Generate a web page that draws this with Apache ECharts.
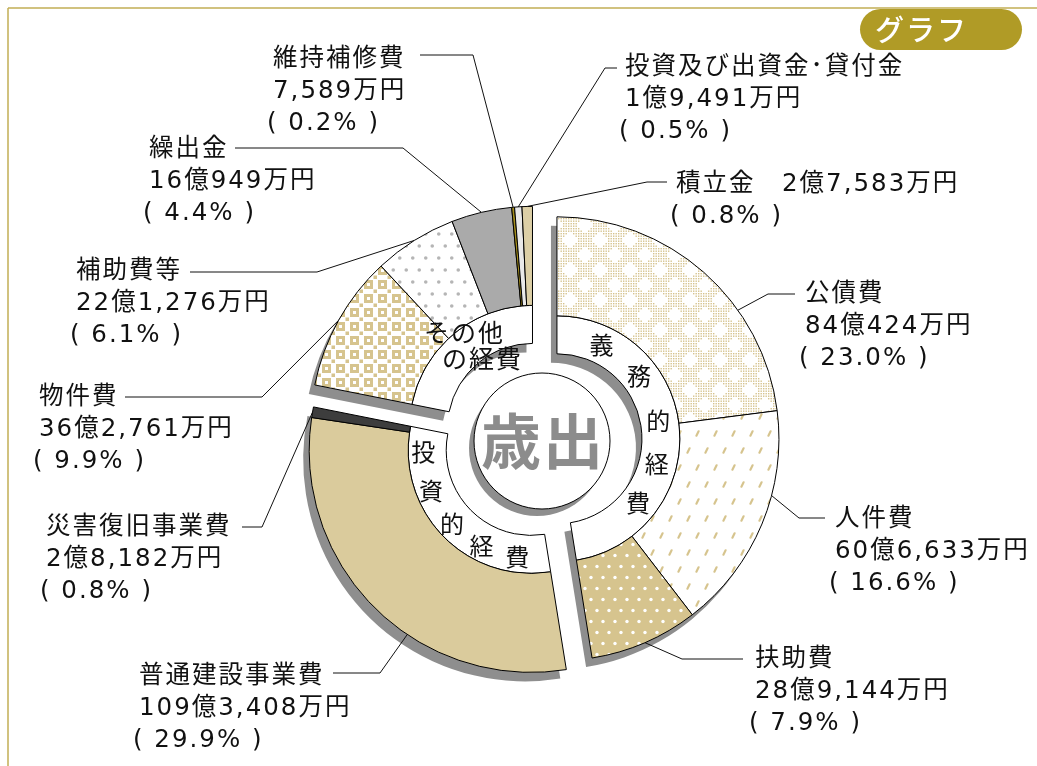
<!DOCTYPE html>
<html><head><meta charset="utf-8">
<script src="https://cdn.jsdelivr.net/npm/echarts@6.0.0/dist/echarts.min.js"></script>
<style>html,body{margin:0;padding:0;background:#fff}#chart{width:1037px;height:766px}</style>
</head><body><div id="chart"></div>
<script>
// ---------------- data ----------------
const groupNames = ['義務的経費', '投資的経費', 'その他の経費'];
const itemNames = ['公債費', '人件費', '扶助費', '普通建設事業費', '災害復旧事業費', '物件費', '補助費等', '繰出金', '維持補修費', '投資及び出資金･貸付金', '積立金'];
const itemGroups = [0, 0, 0, 1, 1, 2, 2, 2, 2, 2, 2];
const itemValues = [840424, 606633, 289144, 1093408, 28182, 362761, 221276, 160949, 7589, 19491, 27583]; // 万円
const itemPercentLabels = ['23.0', '16.6', '7.9', '29.9', '0.8', '9.9', '6.1', '4.4', '0.2', '0.5', '0.8'];
const centerTitle = '歳出';
const badgeText = 'グラフ';

// ---------------- layout / style ----------------
const C = [542, 440];
const EXPLODE = 15;
const R_HOLE = 68, R_IN = 85, R_MID = 123, R_OUT = 222;
const SHADOW = '#8e8e8e', SHADOW_DX = -6, SHADOW_DY = 9;
const TAN = '#d6c48e';
const FONT = "'DejaVu Sans', 'Noto Sans CJK JP', sans-serif";
const CJK = "'Noto Sans CJK JP', sans-serif";

const LABEL_LAYOUT = [
  {x: 799, y: 295, elbow: [768, 294], end: [795, 294], frac: 0.66},
  {x: 829, y: 520, elbow: [799, 518], end: [825, 518], frac: 0.37},
  {x: 749, y: 660, elbow: [682, 659], end: [743, 659], frac: 0.5},
  {x: 133, y: 677, elbow: [380, 673], end: [333, 673], frac: 0.40},
  {x: 40,  y: 528, elbow: [262, 527], end: [242, 527], frac: 0.5},
  {x: 33,  y: 398, elbow: [262, 397], end: [125, 397], frac: 0.5},
  {x: 70,  y: 272, elbow: [317, 272], end: [190, 272], frac: 0.5},
  {x: 143, y: 150, elbow: [403, 148], end: [235, 148], frac: 0.5},
  {x: 267, y: 60,  elbow: [473, 55],  end: [420, 55],  frac: 0.5},
  {x: 619, y: 68,  elbow: [605, 68],  end: [617, 68],  frac: 0.5},
  {x: 670, y: 185, elbow: [647, 182], end: [667, 182], frac: 0.5, inline: true}
];
const GROUP_CHAR_LAYOUT = [
  {r: 104, angles: [26, 53, 80, 104, 128]},
  {r: 107, angles: [269, 248, 227, 207, 187]}
];
const OTHER_LABEL_OFFSETS = [[-68, -96], [-50, -70]];

// ---------------- patterns ----------------
function mk(w, h, bg) { const c = document.createElement('canvas'); c.width = w; c.height = h; const x = c.getContext('2d'); if (bg) { x.fillStyle = bg; x.fillRect(0, 0, w, h); } return [c, x]; }
function patDiamondNet() {
  const W = 30, H = 30, D = 8.5; const [c, x] = mk(W, H, '#fff'); x.fillStyle = TAN;
  const holes = [[0, 0], [W, 0], [0, H], [W, H], [W / 2, H / 2]];
  for (let yy = 0.5; yy < H; yy += 2.5) for (let xx = 0.5; xx < W; xx += 2.5) {
    const px = xx + 0.7, py = yy + 0.7;
    if (holes.some(([hx, hy]) => Math.abs(px - hx) + Math.abs(py - hy) < D)) continue;
    x.fillRect(xx, yy, 1.4, 1.4);
  }
  return c;
}
function patDash() {
  const [c, x] = mk(18, 34, '#fff'); x.strokeStyle = TAN; x.lineWidth = 2.2; x.lineCap = 'round';
  [[4.5, 8.5], [13.5, 25.5]].forEach(([a, b]) => { x.beginPath(); x.moveTo(a - 1.1, b + 2.2); x.lineTo(a + 1.1, b - 2.2); x.stroke(); });
  return c;
}
function patDots(bg, fg, w, h, r) {
  const [c, x] = mk(w, h, bg); x.fillStyle = fg;
  [[w / 4, h / 4], [3 * w / 4, 3 * h / 4]].forEach(([a, b]) => { x.beginPath(); x.arc(a, b, r, 0, Math.PI * 2); x.fill(); });
  return c;
}
function patChecker() {
  const [c, x] = mk(14, 14, '#fff');
  x.fillStyle = TAN; x.fillRect(0, 0, 9, 9);
  x.fillStyle = '#fff'; x.fillRect(3, 3, 3, 3);
  x.fillStyle = TAN; x.fillRect(9.5, 9.5, 3.5, 3.5);
  return c;
}
const P = c => ({image: c, repeat: 'repeat'});
const ITEM_FILLS = [P(patDiamondNet()), P(patDash()), P(patDots(TAN, '#fff', 12, 22, 1.7)), '#dacb9c', '#3d3d3d',
  P(patChecker()), P(patDots('#fff', '#b5b5b5', 13, 24, 1.8)), '#aaaaaa', '#a38d1c', '#e9e9e9', '#dccfa6'];

// ---------------- derived ----------------
const total = itemValues.reduce((s, v) => s + v, 0);
const cum = []; { let a = 0; itemValues.forEach(v => { cum.push(a); a += v; }); }
const groupSums = groupNames.map((_, g) => itemValues.reduce((s, v, i) => s + (itemGroups[i] === g ? v : 0), 0));
const groupStart = groupNames.map((_, g) => cum[itemGroups.indexOf(g)]);
const deg = v => v / total * 360;
const rad = d => d * Math.PI / 180;
const groupCenters = groupNames.map((_, g) => {
  const mid = rad(deg(groupStart[g] + groupSums[g] / 2));
  return [C[0] + EXPLODE * Math.sin(mid), C[1] - EXPLODE * Math.cos(mid)];
});
function fmtAmount(v) { const oku = Math.floor(v / 10000), man = v % 10000; return (oku ? oku + '億' : '') + man.toLocaleString('en-US') + '万円'; }
function anchorOf(i) {
  const gc = groupCenters[itemGroups[i]];
  const a = rad(deg(cum[i] + itemValues[i] * LABEL_LAYOUT[i].frac));
  return [gc[0] + R_OUT * Math.sin(a), gc[1] - R_OUT * Math.cos(a)];
}
function filler(g) {
  return {value: total - groupSums[g], name: '', itemStyle: {color: 'rgba(0,0,0,0)', borderWidth: 0},
    label: {show: false}, labelLine: {show: false}};
}
const base = {type: 'pie', clockwise: true, silent: true, animation: false, avoidLabelOverlap: false,
  minAngle: 0, emphasis: {disabled: true}, stillShowZeroSum: false};

const series = [];
groupNames.forEach((gname, g) => {
  const gc = groupCenters[g];
  series.push(Object.assign({}, base, {
    z: 1, center: [gc[0] + SHADOW_DX, gc[1] + SHADOW_DY], radius: [R_IN, R_OUT], startAngle: 90 - deg(groupStart[g]),
    label: {show: false}, labelLine: {show: false},
    data: [{value: groupSums[g], name: gname, itemStyle: {color: SHADOW, borderWidth: 0}}, filler(g)]
  }));
});
groupNames.forEach((gname, g) => {
  const gc = groupCenters[g];
  series.push(Object.assign({}, base, {
    z: 2, center: gc, radius: [R_IN, R_MID], startAngle: 90 - deg(groupStart[g]),
    label: {show: false}, labelLine: {show: false},
    data: [{value: groupSums[g], name: gname, itemStyle: {color: '#fff', borderColor: '#000', borderWidth: 1}}, filler(g)]
  }));
});
groupNames.forEach((gname, g) => {
  const gc = groupCenters[g];
  const idxs = itemNames.map((_, i) => i).filter(i => itemGroups[i] === g);
  const data = idxs.map(i => ({value: itemValues[i], name: itemNames[i], gi: i,
    itemStyle: {color: ITEM_FILLS[i], borderColor: '#000', borderWidth: 1}}));
  data.push(filler(g));
  series.push(Object.assign({}, base, {
    z: 3, center: gc, radius: [R_MID, R_OUT], startAngle: 90 - deg(groupStart[g]),
    label: {
      show: true, position: 'outside', color: '#111', fontSize: 24.5, fontFamily: FONT, lineHeight: 32,
      formatter: p => {
        const i = p.data.gi; if (i === undefined) return '';
        const amt = fmtAmount(itemValues[i]);
        const pct = '( ' + itemPercentLabels[i] + '% )';
        if (LABEL_LAYOUT[i].inline) return '{a|' + itemNames[i] + '　' + amt + '}\n' + pct;
        return '{a|' + itemNames[i] + '}\n{a|' + amt + '}\n' + pct;
      },
      rich: {a: {padding: [0, 0, 0, 6], fontSize: 24.5, fontFamily: FONT, color: '#111', lineHeight: 32}}
    },
    labelLine: {show: true, length: 10, length2: 10, smooth: false, lineStyle: {color: '#111', width: 1}},
    labelLayout: p => {
      const i = idxs[p.dataIndex]; if (i === undefined) return {};
      const L = LABEL_LAYOUT[i];
      return {x: L.x, y: L.y - 16, align: 'left', verticalAlign: 'top', labelLinePoints: [anchorOf(i), L.elbow, L.end]};
    },
    data
  }));
});

// ---------------- graphic ----------------
const graphic = [
  {type: 'line', silent: true, z: 50, shape: {x1: 8, y1: 8, x2: 1037, y2: 8}, style: {stroke: '#c2ae55', lineWidth: 1.5}},
  {type: 'line', silent: true, z: 50, shape: {x1: 8, y1: 8, x2: 8, y2: 766}, style: {stroke: '#c2ae55', lineWidth: 1.5}},
  {type: 'rect', silent: true, z: 51, shape: {x: 860, y: 9, width: 162, height: 41, r: 20.5}, style: {fill: '#b09b26'}},
  {type: 'text', silent: true, z: 52, style: {text: badgeText, x: 875, y: 30, align: 'left', verticalAlign: 'middle', textAlign: 'left', textVerticalAlign: 'middle', fill: '#fff', font: '500 29px ' + CJK}},
  {type: 'circle', silent: true, z: 50, shape: {cx: C[0] - 5, cy: C[1] + 1 + 7, r: R_HOLE}, style: {fill: SHADOW}},
  {type: 'circle', silent: true, z: 51, shape: {cx: C[0], cy: C[1] + 1, r: R_HOLE}, style: {fill: '#fff', stroke: '#000', lineWidth: 1}},
  {type: 'text', silent: true, z: 52, style: {text: centerTitle, x: C[0] + 1, y: C[1] + 1, align: 'center', verticalAlign: 'middle', textAlign: 'center', textVerticalAlign: 'middle', fill: '#8c8c8c', font: 'bold 60px ' + CJK}}
];
GROUP_CHAR_LAYOUT.forEach((gl, g) => {
  const gc = groupCenters[g];
  Array.from(groupNames[g]).forEach((ch, k) => {
    const a = rad(gl.angles[k]);
    graphic.push({type: 'text', silent: true, z: 60, style: {text: ch, x: gc[0] + gl.r * Math.sin(a), y: gc[1] - gl.r * Math.cos(a),
      align: 'center', verticalAlign: 'middle', textAlign: 'center', textVerticalAlign: 'middle', fill: '#111', font: '24px ' + CJK}});
  });
});
{
  const chars = Array.from(groupNames[2]);
  const lines = [chars.slice(0, 3).join(''), chars.slice(3).join('')];
  const gc = groupCenters[2];
  lines.forEach((t, k) => graphic.push({type: 'text', silent: true, z: 60, style: {text: t, x: gc[0] + OTHER_LABEL_OFFSETS[k][0], y: gc[1] + OTHER_LABEL_OFFSETS[k][1],
    align: 'center', verticalAlign: 'middle', textAlign: 'center', textVerticalAlign: 'middle', fill: '#111', font: '25px ' + CJK}}));
}

const option = {animation: false, backgroundColor: '#fff', series, graphic};
const chart = echarts.init(document.getElementById('chart'), null, {renderer: 'canvas'});
chart.setOption(option);
document.querySelectorAll('#chart canvas').forEach(cv => { const cx = cv.getContext('2d'); if ('letterSpacing' in cx) cx.letterSpacing = '2px'; });
chart.setOption(option, true);
</script>
</body></html>
